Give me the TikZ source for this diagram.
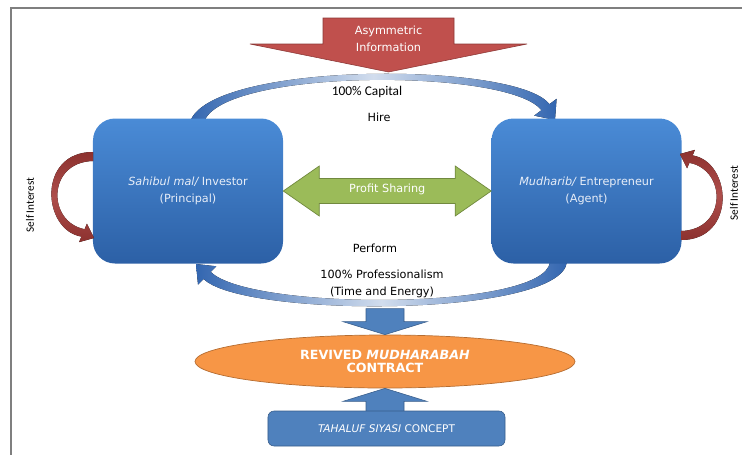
\documentclass[tikz,border=0pt]{standalone}
\usepackage{fontspec}
\setmainfont{DejaVu Sans}
\newfontfamily\calib{Carlito}
\usepackage{tikz}
\usetikzlibrary{shapes.geometric, calc}

\definecolor{arrowred}{HTML}{C0504D}
\definecolor{arrowredline}{HTML}{8C3836}
\definecolor{boxtop}{HTML}{4A8BD6}
\definecolor{boxbot}{HTML}{2C60A6}
\definecolor{boxtext}{HTML}{E8EEF8}
\definecolor{selfred}{HTML}{A53A37}
\definecolor{sharegreen}{HTML}{9BBB59}
\definecolor{sharegreenline}{HTML}{71893F}
\definecolor{contractorange}{HTML}{F79646}
\definecolor{contractline}{HTML}{B66D31}
\definecolor{blockblue}{HTML}{4F81BD}
\definecolor{blockblueline}{HTML}{385D8A}
\definecolor{arcblue}{HTML}{3366B0}
\definecolor{framegray}{HTML}{7F7F7F}

\tikzset{
  party/.style={rounded corners=5.5mm, minimum width=47.5mm, minimum height=36.25mm,
    top color=boxtop, bottom color=boxbot, text=boxtext, align=center,
    font=\fontsize{8}{12}\selectfont},
  lbl/.style={font=\fontsize{8}{9.6}\selectfont},
  twoline/.style={align=center, font=\fontsize{8}{12}\selectfont},
  selftext/.style={font=\calib\fontsize{8}{9}\selectfont, rotate=90},
  blockarrow/.style={fill=blockblue, draw=blockblueline, line width=0.4pt},
  curvearrow/.style={left color=arcblue, right color=arcblue, middle color=arcblue!22},
  selfarrow/.style={top color=selfred!85!black, bottom color=selfred!85!black, middle color=selfred!90!white},
}

\begin{document}
\begin{tikzpicture}[x=0.25mm, y=-0.25mm]
  \useasboundingbox (0,0) rectangle (742,454);
  \draw[framegray, line width=1pt] (11,460) -- (11,8) -- (750,8);

  % asymmetric information
  \filldraw[fill=arrowred, draw=arrowredline, line width=0.4pt]
    (323,18) -- (454,18) -- (454,44) -- (527,44) -- (388.5,72) -- (250,44) -- (323,44) -- cycle;
  \node[twoline, text=white] (asym) at (388.5,38.5) {Asymmetric\\Information};

  % hire / perform arcs
  \fill[curvearrow] (190,122) .. controls (210,61) and (517,61) .. (549.4,104.2)
    -- (556.6,98.8) -- (555,120) -- (534.2,115.6) -- (541.4,110.2)
    .. controls (509.8,68) and (222,68) .. (204,122) -- cycle;
  \fill[curvearrow] (567,262) .. controls (560,318) and (241.8,317.7) .. (203.6,278.9)
    -- (198,284.5) -- (196,264) -- (216.4,266.3) -- (210.8,271.9)
    .. controls (249.2,310.8) and (545,310.8) .. (550,262) -- cycle;

  % parties
  \node[party] (investor) at (188,191) {{\itshape Sahibul mal/} Investor\\(Principal)};
  \node[party] (entrepreneur) at (586.5,191) {{\itshape Mudharib/} Entrepreneur\\(Agent)};

  % profit sharing
  \filldraw[fill=sharegreen, draw=sharegreenline, line width=0.5pt]
    (investor.east) -- ++(36,-25) -- ++(0,12.5) -- ($(entrepreneur.west)+(-36,-12.5)$)
    -- ++(0,-12.5) -- (entrepreneur.west) -- ++(-36,25) -- ++(0,-12.5)
    -- ($(investor.east)+(36,12.5)$) -- ++(0,12.5) -- cycle;
  \node[lbl, text=white] (share) at ($(investor.east)!0.5!(entrepreneur.west)+(0,-2)$) {Profit Sharing};

  % self interest
  \fill[selfarrow] (93,152) .. controls (37,152) and (42,230) .. (81.4,236.6) -- (79.1,242.1)
    -- (94,238) -- (86.9,223.7) -- (84.6,229.2) .. controls (47,222) and (47,162) .. (93,161) -- cycle;
  \fill[selfarrow] (681,240) .. controls (737,240) and (732,162) .. (692.6,155.4) -- (694.9,149.9)
    -- (680,154) -- (687.1,168.3) -- (689.4,162.8) .. controls (727,170) and (727,230) .. (681,231) -- cycle;
  \node[selftext] (selfleft) at (30,205) {Self Interest};
  \node[selftext] (selfright) at (734,193) {Self Interest};

  % arc labels
  \node[font=\calib\fontsize{9.5}{11}\selectfont] (capital) at (367,92) {100\% Capital};
  \node[lbl] (hire) at (379,117) {Hire};
  \node[lbl] (perform) at (375,248) {Perform};
  \node[twoline] (prof) at (382,283.5) {100\% Professionalism\\(Time and Energy)};

  % contract
  \node[ellipse, fill=contractorange, draw=contractline, line width=0.5pt,
    minimum width=95mm, minimum height=13.25mm, text=white, align=center,
    font=\bfseries\fontsize{9}{9.3}\selectfont] (contract) at (385,361.5)
    {REVIVED \textit{MUDHARABAH}\\CONTRACT};
  \filldraw[blockarrow] (contract.north) -- ++(-42,-13) -- ++(23,0) -- ++(0,-13)
    -- ++(38,0) -- ++(0,13) -- ++(23,0) -- cycle;
  \filldraw[blockarrow] (contract.south) -- ++(-42,13) -- ++(23,0) -- ++(0,12)
    -- ++(38,0) -- ++(0,-12) -- ++(23,0) -- cycle;
  \node[blockarrow, rounded corners=1.5mm, minimum width=59.25mm, minimum height=8.75mm,
    text=white, font=\fontsize{7.5}{9}\selectfont] (concept) at (386.5,428.5)
    {\textit{TAHALUF SIYASI} CONCEPT};
\end{tikzpicture}
\end{document}
